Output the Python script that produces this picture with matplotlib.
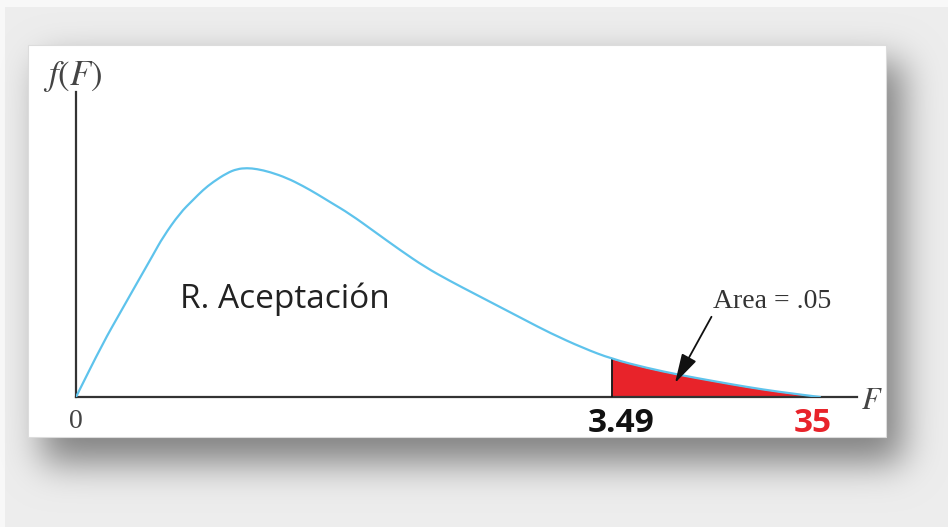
import numpy as np
import matplotlib
matplotlib.use("Agg")
import matplotlib.pyplot as plt
from matplotlib.patches import Rectangle, PathPatch
from matplotlib.path import Path

# ---- data (schematic F density) ----
curve_x = [0, 27, 44, 61, 77, 87, 104, 117, 127, 137, 151, 161, 171, 181, 194,
           211, 227, 241, 254, 274, 299, 324, 349, 374, 399, 424, 449, 474,
           507, 536, 571, 604, 637, 671, 704, 744]
curve_y = [0, 54, 84, 114, 142, 160, 184, 197, 207, 215, 224, 228, 229, 228, 225,
           219, 211, 203, 195, 183, 165, 147, 130, 116, 103, 90, 77, 64,
           49, 38, 29, 22, 16, 10, 5, 0]
crit_x = 536
end_x = 744
zero_label = "0"
crit_label = "3.49"
end_label = "35"
area_label = "Area = .05"
region_label = "R. Aceptación"

W, H = 948, 527
fig = plt.figure(figsize=(W / 100, H / 100), dpi=100)

# ---- background with card shadow ----
bg = fig.add_axes([0, 0, 1, 1])
bg.set_xlim(0, W)
bg.set_ylim(H, 0)
bg.axis("off")

yy, xx = np.mgrid[0:H, 0:W]
img = np.full((H, W), 0.93)
img[:7, :] = 0.975
img[:, :5] = 0.975


def blur(a, s):
    r = int(3 * s)
    k = np.exp(-0.5 * (np.arange(-r, r + 1) / s) ** 2)
    k /= k.sum()
    a = np.apply_along_axis(lambda v: np.convolve(v, k, mode="same"), 0, a)
    a = np.apply_along_axis(lambda v: np.convolve(v, k, mode="same"), 1, a)
    return a


mask = ((xx >= 42) & (xx <= 902) & (yy >= 62) & (yy <= 462)).astype(float)
img -= 0.42 * blur(mask, 18)
img = np.clip(img, 0, 1)
bg.imshow(np.dstack([img] * 3), extent=(0, W, H, 0), aspect="auto",
          interpolation="bilinear", zorder=0)
bg.add_patch(Rectangle((28, 45), 858, 392, facecolor="white",
                       edgecolor="#dcdcdc", lw=0.8, zorder=1))

# ---- main chart ----
plt.rcParams["mathtext.fontset"] = "stix"
ax = fig.add_axes([76 / W, (H - 397) / H, 781 / W, 305 / H])
ax.set_xlim(0, 781)
ax.set_ylim(0, 305)
ax.patch.set_alpha(0)
for s in ("top", "right"):
    ax.spines[s].set_visible(False)
for s in ("left", "bottom"):
    ax.spines[s].set_color("#333333")
    ax.spines[s].set_linewidth(1.6)
ax.set_xticks([])
ax.set_yticks([])

cx = np.array(curve_x, dtype=float)
cy = np.array(curve_y, dtype=float)
pts = np.column_stack([cx, cy])

# smooth rendering of the read points with quadratic Bezier segments
verts = [pts[0], (pts[0] + pts[1]) / 2]
codes = [Path.MOVETO, Path.LINETO]
for i in range(1, len(pts) - 1):
    verts += [pts[i], (pts[i] + pts[i + 1]) / 2]
    codes += [Path.CURVE3, Path.CURVE3]
verts.append(pts[-1])
codes.append(Path.LINETO)
curve_path = Path(np.array(verts), codes)

tail = cx >= crit_x
ax.fill_between(cx[tail], 0, cy[tail], color="#e8232a", lw=0, zorder=2)
crit_y = cy[cx == crit_x][0]
ax.plot([crit_x, crit_x], [0, crit_y], color="#111111", lw=1.3, zorder=3)
ax.add_patch(PathPatch(curve_path, facecolor="none", edgecolor="#5ec3ec",
                       lw=1.6, zorder=4, capstyle="round", joinstyle="round"))

# labels
ax.text(104, 89, region_label, fontsize=24, family="Open Sans", color="#222222",
        ha="left", va="baseline")
ax.text(0, -31, zero_label, fontsize=20, family="Liberation Serif", color="#444444",
        ha="center", va="baseline", clip_on=False)
ax.text(crit_x + 9, -35, crit_label, fontsize=24, family="Open Sans", weight="bold",
        color="#111111", ha="center", va="baseline", clip_on=False)
ax.text(end_x - 7, -35, end_label, fontsize=24, family="Open Sans", weight="bold",
        color="#e8232a", ha="center", va="baseline", clip_on=False)
ax.text(796, -12, "$F$", fontsize=22, color="#444444", ha="center",
        va="baseline", clip_on=False)
ax.text(-3, 312, "$f(F)$", fontsize=25, color="#444444", ha="center",
        va="baseline", clip_on=False)
ax.annotate(area_label, xy=(599, 14), xytext=(637, 89), fontsize=20,
            family="Liberation Serif", color="#333333", ha="left", va="baseline",
            arrowprops=dict(arrowstyle="-|>,head_length=0.9,head_width=0.25",
                            color="#111111", lw=1.3, shrinkA=0, shrinkB=0,
                            relpos=(0.0, 0.0)),
            annotation_clip=False, zorder=5)

fig.savefig("out.png", dpi=100)
